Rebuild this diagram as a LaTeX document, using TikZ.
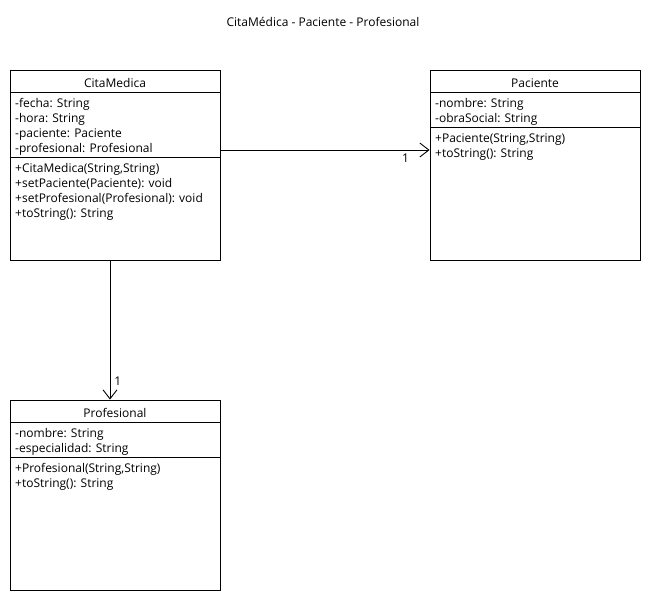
\documentclass[tikz,border=0pt]{standalone}
\usepackage{fontspec}
\setmainfont{Open Sans}
\usetikzlibrary{positioning,arrows.meta}

\tikzset{
  classbox/.style={draw, line width=0.9pt, minimum width=210pt, minimum height=190pt, inner sep=0pt},
  classname/.style={inner sep=0pt, font=\fontsize{12}{15}\selectfont},
  members/.style={align=left, anchor=north west, inner sep=0pt, font=\fontsize{12}{15}\selectfont},
  divider/.style={line width=0.9pt},
  assoc/.style={line width=0.9pt, -{Straight Barb[length=9pt,width=14pt,line width=0.9pt]}},
  mult/.style={inner sep=0pt, font=\fontsize{12}{12}\selectfont},
}

\begin{document}
\begin{tikzpicture}[x=1pt,y=-1pt]
\useasboundingbox (0,0) rectangle (650,600);

% 1. Title of the diagram
\node[classname] (title) at (323,22) {CitaMédica - Paciente - Profesional};

% 2. The three class boxes
\node[classbox] (cita) at (115,165) {};
\node[classbox] (pac)  at (535,165) {};
\node[classbox] (prof) at (115,495) {};

% 3. CitaMedica compartments
\node[classname] (citaname) at (115,83) {CitaMedica};
\draw[divider] (10,92) -- (220,92);
\node[members] (citaattr) at (15,98.5) {-fecha: String\\-hora: String\\-paciente: Paciente\\-profesional: Profesional};
\draw[divider] (10,157) -- (220,157);
\node[members] (citaops) at (15,163.5) {+CitaMedica(String,String)\\+setPaciente(Paciente): void\\+setProfesional(Profesional): void\\+toString(): String};

% 4. Paciente compartments
\node[classname] (pacname) at (535,83) {Paciente};
\draw[divider] (430,92) -- (640,92);
\node[members] (pacattr) at (435,98.5) {-nombre: String\\-obraSocial: String};
\draw[divider] (430,127) -- (640,127);
\node[members] (pacops) at (435,133.5) {+Paciente(String,String)\\+toString(): String};

% 5. Profesional compartments
\node[classname] (profname) at (115,413) {Profesional};
\draw[divider] (10,422) -- (220,422);
\node[members] (profattr) at (15,428.5) {-nombre: String\\-especialidad: String};
\draw[divider] (10,457) -- (220,457);
\node[members] (profops) at (15,463.5) {+Profesional(String,String)\\+toString(): String};

% 6. Associations with multiplicity
\draw[assoc] ([yshift=15pt]cita.east) -- ([yshift=15pt]pac.west)
  node[mult, pos=1, anchor=north east, xshift=-20pt, yshift=-3pt] {1};
\draw[assoc] ([xshift=-5pt]cita.south) -- ([xshift=-5pt]prof.north)
  node[mult, pos=1, anchor=south west, xshift=4pt, yshift=14pt] {1};

\end{tikzpicture}
\end{document}
